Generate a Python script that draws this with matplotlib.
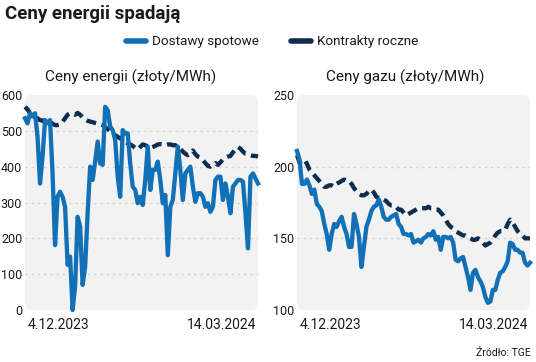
import numpy as np
import matplotlib
matplotlib.use("Agg")
from matplotlib import pyplot as plt
from matplotlib.patches import FancyBboxPatch
from matplotlib.lines import Line2D

plt.rcParams['font.family'] = ['Roboto', 'DejaVu Sans']

# energy prices (zloty/MWh)
energy_spot = [535, 521, 549, 540, 549, 484, 353, 428, 530, 521, 530, 381, 181, 316, 330, 316,
               288, 126, 149, 0, 65, 260, 233, 70, 121, 270, 400, 363, 414, 470, 409, 405,
               567, 558, 512, 502, 474, 372, 316, 502, 493, 493, 409, 344, 335, 298, 316, 293,
               363, 456, 335, 391, 391, 414, 363, 298, 321, 153, 288, 307, 381, 456, 391, 307,
               381, 391, 400, 344, 302, 326, 326, 316, 288, 298, 274, 288, 363, 372, 372, 307,
               353, 316, 270, 344, 353, 363, 363, 358, 270, 172, 372, 381, 367, 353]
energy_contract = [567, 560, 549, 540, 537, 535, 530, 528, 530, 528, 525, 520, 516, 516, 518, 525,
                   535, 545, 549, 548, 545, 550, 545, 538, 532, 528, 526, 524, 522, 520, 518, 516,
                   510, 505, 500, 492, 488, 483, 479, 475, 470, 465, 462, 458, 452, 448, 455, 462,
                   460, 456, 452, 455, 458, 462, 463, 462, 460, 462, 462, 460, 460, 455, 450, 442,
                   436, 432, 437, 445, 435, 428, 425, 418, 410, 402, 400, 405, 410, 405, 412, 420,
                   425, 428, 430, 440, 448, 455, 450, 442, 436, 435, 432, 430, 430, 428]

# gas prices (zloty/MWh)
gas_spot = [211, 205, 188, 188, 191, 187, 181, 184, 174, 172, 169, 160, 153, 142, 153, 160,
            158, 162, 165, 158, 153, 144, 144, 167, 160, 151, 130, 144, 158, 163, 169, 172,
            173, 177, 172, 165, 163, 163, 165, 166, 167, 160, 158, 153, 153, 152, 153, 147,
            148, 149, 147, 150, 151, 153, 152, 155, 149, 151, 142, 151, 151, 150, 151, 147,
            135, 134, 136, 137, 130, 123, 114, 126, 128, 123, 120, 116, 109, 105, 106, 114,
            114, 121, 126, 127, 130, 134, 147, 146, 142, 142, 140, 140, 133, 131, 133]
gas_contract = [208, 203, 204, 205, 202, 198, 196, 194, 192, 190, 188, 186, 186, 187, 187, 186,
                188, 189, 190, 191, 190, 190, 188, 185, 183, 181, 180, 180, 181, 183, 184, 182,
                179, 178, 178, 177, 176, 174, 173, 173, 172, 170, 170, 168, 166, 167, 168, 169,
                170, 171, 171, 171, 171, 172, 171, 171, 170, 170, 168, 166, 163, 160, 158, 157,
                155, 154, 153, 152, 152, 151, 150, 149, 149, 150, 149, 147, 145, 146, 147, 149,
                152, 154, 155, 155, 156, 160, 163, 161, 158, 155, 153, 152, 150, 150, 150]

date_labels = ["4.12.2023", "14.03.2024"]

SPOT = "#1170b6"
CONTRACT = "#0f2d4f"
BG = "#f2f2f2"
TXT = "#1a1a1a"

fig = plt.figure(figsize=(5.36, 3.62), dpi=100)


def panel(rect, spot, contract, ylim, yticks):
    ax = fig.add_axes(rect)
    ax.set_facecolor("none")
    for s in ax.spines.values():
        s.set_visible(False)
    bg = FancyBboxPatch((0, 0), 1, 1, boxstyle="round,pad=0,rounding_size=0.03",
                        transform=ax.transAxes, facecolor=BG, edgecolor="none",
                        zorder=0, mutation_aspect=233 / 215)
    ax.add_patch(bg)
    x = np.arange(len(spot))
    for y in yticks[1:-1]:
        ax.axhline(y, color="#cfcfcf", lw=1, ls=(0, (1.5, 3)), zorder=1)
    ax.plot(x, spot, color=SPOT, lw=3.1, solid_joinstyle="round", zorder=3, clip_on=False)
    ax.plot(x, contract, color=CONTRACT, lw=3.1, ls=(0, (2.3, 1.3)), zorder=2, clip_on=False)
    ax.set_xlim(0, len(spot) - 1)
    ax.set_ylim(*ylim)
    ax.set_yticks(yticks)
    ax.tick_params(axis="y", length=0, pad=2, labelsize=9, labelcolor=TXT)
    ax.set_xticks([])
    ax.text(0.012, -0.035, date_labels[0], transform=ax.transAxes, ha="left", va="top",
            fontsize=10, color=TXT)
    ax.text(0.995, -0.035, date_labels[1], transform=ax.transAxes, ha="right", va="top",
            fontsize=10, color=TXT)
    return ax


panel([25 / 536, 52 / 362, 233 / 536, 215 / 362], energy_spot, energy_contract,
      (0, 600), [0, 100, 200, 300, 400, 500, 600])
panel([297 / 536, 52 / 362, 233 / 536, 215 / 362], gas_spot, gas_contract,
      (100, 250), [100, 150, 200, 250])

fig.text(131 / 536, 1 - 77 / 362, "Ceny energii (złoty/MWh)", ha="center", va="center",
         fontsize=11, color=TXT)
fig.text(405 / 536, 1 - 77 / 362, "Ceny gazu (złoty/MWh)", ha="center", va="center",
         fontsize=11, color=TXT)

fig.text(5 / 536, 1 - 14 / 362, "Ceny energii spadają", ha="left", va="center",
         fontsize=13.5, fontweight="bold", color=TXT)

handles = [Line2D([], [], color=SPOT, lw=4, solid_capstyle="round"),
           Line2D([], [], color=CONTRACT, lw=4, solid_capstyle="round")]
fig.legend(handles, ["Dostawy spotowe", "Kontrakty roczne"], loc="center",
           bbox_to_anchor=(272 / 536, 1 - 42 / 362), ncol=2, frameon=False,
           fontsize=9.7, handlelength=1.5, handletextpad=0.4, columnspacing=2.4,
           labelcolor=TXT)

fig.text(531 / 536, 1 - 353 / 362, "Źródło: TGE", ha="right", va="center",
         fontsize=7.5, color=TXT)

fig.savefig("out.png", dpi=100)
